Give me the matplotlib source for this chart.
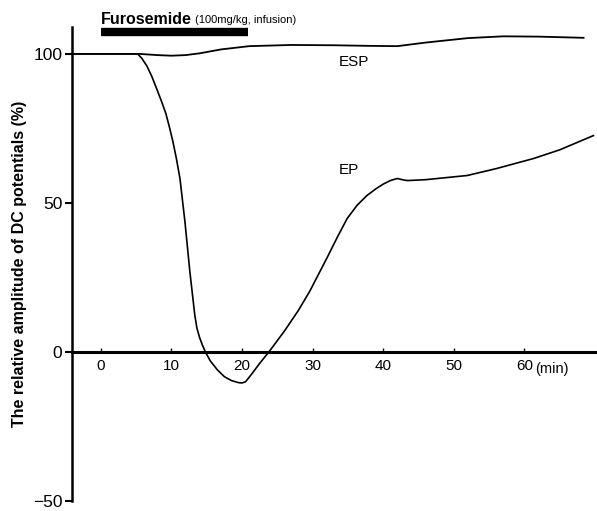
import matplotlib.pyplot as plt
import numpy as np

# time (min) and relative amplitude (%)
esp_t = [-4.1, 0, 5.5, 8, 10, 12, 14, 17, 21, 27, 33, 38, 42, 46, 52, 57, 62, 68.4]
esp_v = [100, 100, 100, 99.6, 99.4, 99.6, 100.2, 101.5, 102.6, 103, 102.9, 102.7, 102.6, 103.8, 105.3, 105.9, 105.8, 105.4]

ep_t = [-4.1, 0, 5.2, 5.8, 6.5, 7.2, 7.9, 8.6, 9.2, 9.7, 10.2, 10.7, 11.2, 11.9, 12.6, 13.3, 13.6, 14.0, 14.4,
        14.8, 15.5, 16.5, 17.5, 18.5, 19.5, 20.0, 20.5, 21.5, 22.5, 23.8,
        26, 28, 29.6, 32, 33.5, 34.9, 36.3, 37.7, 39, 40, 41, 42, 42.7, 43.4, 46, 51.9, 56, 61.3, 65, 69.8]
ep_v = [100, 100, 100, 98.5, 96, 92.5, 88.3, 84, 80, 75.5, 70.6, 64.8, 58.2, 43.8, 27, 12.4, 8, 4.7, 2.2,
        0, -3, -6, -8.3, -9.6, -10.3, -10.4, -10, -7, -3.8, 0,
        7, 14, 20.4, 31.4, 38.5, 44.8, 49.2, 52.5, 54.8, 56.3, 57.5, 58.2, 57.8, 57.5, 57.8, 59.2, 61.5, 64.9, 67.8, 72.6]

xticks = [0, 10, 20, 30, 40, 50, 60]
yticks = [-50, 0, 50, 100]

plt.rcParams['font.family'] = ['Liberation Sans', 'DejaVu Sans']

fig = plt.figure(figsize=(5.97, 5.11), dpi=100)
ax = fig.add_axes([0.1206, 0.0196, 0.8794, 0.9274])

ax.plot(esp_t, esp_v, color='black', lw=1.3)
ax.plot(ep_t, ep_v, color='black', lw=1.2)

ax.set_xlim(-4.1, 70.3)
ax.set_ylim(-50, 109)

for s in ['top', 'right']:
    ax.spines[s].set_visible(False)
ax.spines['bottom'].set_position(('data', 0))
ax.spines['bottom'].set_linewidth(2.2)
ax.spines['left'].set_linewidth(1.8)

ax.set_yticks(yticks)
ax.set_yticklabels(['\u221250', '0', '50', '100'], fontsize=12.5)
ax.tick_params(axis='y', direction='out', length=5, width=1.5, pad=2)

ax.set_xticks(xticks)
ax.set_xticklabels(['0', '10', '20', '30', '40', '50', '60'], fontsize=11)
ax.tick_params(axis='x', direction='in', length=3, width=1, pad=5)
ax.text(61.6, -5.6, '(min)', fontsize=10.5, va='center', ha='left')

ax.set_ylabel('The relative amplitude of DC potentials (%)', fontsize=11.5,
              fontweight='bold', labelpad=4)

# drug infusion bar
ax.plot([0, 20.8], [107.3, 107.3], color='black', lw=6, solid_capstyle='butt', clip_on=False)
t1 = ax.text(0, 111.5, 'Furosemide', fontsize=11.5, fontweight='bold', va='center', ha='left')
ax.annotate('(100mg/kg, infusion)', xy=(1, 0.5), xycoords=t1, xytext=(2, 0),
            textcoords='offset points', fontsize=8, va='center', ha='left')

ax.text(33.7, 97.3, 'ESP', fontsize=11, va='center', ha='left')
ax.text(33.7, 61, 'EP', fontsize=11, va='center', ha='left')

plt.savefig('out.png', dpi=100)
